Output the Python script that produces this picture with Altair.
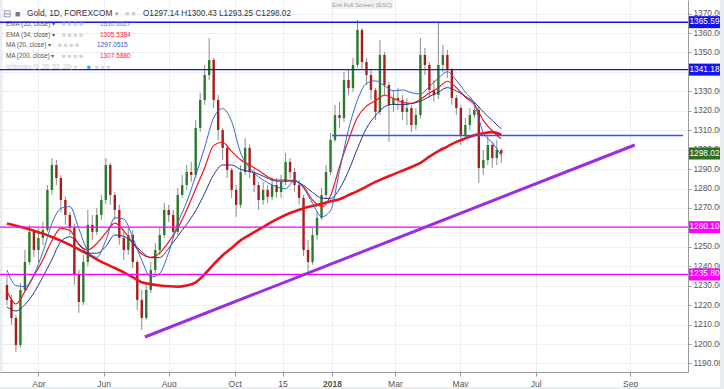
import altair as alt
import pandas as pd

# ---------------- data ----------------
candle_idx = list(range(0, 333, 3))          # trading-session index
first_open = 1230.4
closes = [1222.7, 1213.4, 1199.5, 1227.8, 1242.2, 1257.7, 1248.4, 1254.6, 1258.7, 1279.3,
          1292.1, 1285.4, 1274.1, 1266.4, 1259.7, 1235.5, 1221.6, 1242.2, 1261.3, 1257.7,
          1266.4, 1274.1, 1292.1, 1276.7, 1269.0, 1254.6, 1248.4, 1256.1, 1242.2, 1222.7,
          1213.4, 1227.8, 1238.1, 1248.4, 1256.1, 1269.0, 1266.4, 1257.7, 1276.7, 1281.8,
          1288.5, 1287.0, 1311.2, 1325.6, 1338.4, 1346.1, 1325.6, 1310.1, 1300.9, 1289.6,
          1279.3, 1271.6, 1288.5, 1300.9, 1288.5, 1281.8, 1274.1, 1279.3, 1275.7, 1281.8,
          1278.2, 1283.4, 1293.7, 1288.5, 1281.8, 1275.2, 1248.4, 1242.2, 1256.1, 1264.9,
          1276.7, 1288.5, 1305.0, 1317.8, 1316.3, 1335.8, 1331.7, 1343.6, 1361.6, 1345.1,
          1338.4, 1330.7, 1319.4, 1348.7, 1333.3, 1323.0, 1326.6, 1325.6, 1319.4, 1321.4,
          1312.7, 1317.8, 1348.7, 1343.6, 1330.7, 1328.1, 1343.6, 1348.7, 1341.0, 1326.6,
          1321.4, 1307.6, 1312.7, 1317.8, 1320.4, 1290.6, 1294.7, 1302.4, 1295.7, 1299.8, 1298.02]
highs = [1235.5, 1225.2, 1215.0, 1231.4, 1248.4, 1261.3, 1258.7, 1259.7, 1262.8, 1281.8,
         1295.7, 1294.7, 1287.0, 1276.0, 1267.9, 1262.0, 1238.1, 1245.8, 1269.0, 1266.4,
         1270.0, 1276.7, 1295.7, 1293.2, 1278.2, 1271.6, 1257.7, 1259.7, 1258.5, 1243.3,
         1227.8, 1231.4, 1242.2, 1252.0, 1259.7, 1272.6, 1271.6, 1269.0, 1280.3, 1287.0,
         1292.1, 1293.7, 1315.3, 1329.2, 1343.6, 1357.5, 1347.2, 1328.0, 1311.2, 1302.4,
         1290.6, 1281.8, 1292.1, 1306.0, 1302.4, 1290.6, 1283.4, 1283.4, 1281.8, 1285.4,
         1285.4, 1287.0, 1298.3, 1295.7, 1290.6, 1284.4, 1276.7, 1253.5, 1259.7, 1267.9,
         1280.3, 1292.1, 1308.6, 1323.0, 1324.5, 1340.0, 1341.0, 1347.2, 1366.7, 1362.6,
         1347.2, 1341.0, 1331.7, 1356.4, 1350.3, 1334.8, 1330.7, 1331.7, 1328.1, 1326.6,
         1323.0, 1321.4, 1357.5, 1352.3, 1345.1, 1335.8, 1365.7, 1353.9, 1351.3, 1342.0,
         1328.1, 1323.0, 1316.3, 1321.4, 1324.5, 1322.0, 1299.8, 1307.6, 1304.0, 1305.0, 1300.43]
lows = [1220.1, 1209.8, 1195.9, 1198.0, 1226.8, 1240.7, 1244.8, 1242.2, 1251.0, 1257.7,
        1276.7, 1281.8, 1267.9, 1261.3, 1256.1, 1230.4, 1216.0, 1220.1, 1240.0, 1253.5,
        1256.1, 1263.8, 1272.0, 1271.6, 1263.8, 1251.0, 1243.3, 1245.8, 1239.1, 1217.5,
        1207.3, 1212.4, 1226.3, 1235.5, 1245.8, 1254.6, 1262.8, 1254.6, 1256.1, 1275.2,
        1279.3, 1283.4, 1285.4, 1309.1, 1323.0, 1335.8, 1321.4, 1305.0, 1294.7, 1285.4,
        1275.2, 1265.4, 1270.0, 1287.0, 1285.4, 1278.2, 1269.0, 1271.6, 1272.6, 1274.1,
        1275.2, 1275.2, 1281.8, 1285.4, 1278.2, 1271.6, 1245.3, 1237.1, 1240.7, 1253.5,
        1263.8, 1275.2, 1287.0, 1304.0, 1311.2, 1314.2, 1328.1, 1329.7, 1342.0, 1341.0,
        1333.3, 1325.6, 1315.3, 1317.8, 1328.1, 1304.0, 1319.4, 1320.4, 1315.3, 1312.7,
        1309.1, 1310.1, 1316.0, 1338.4, 1326.6, 1324.5, 1326.0, 1340.0, 1336.9, 1323.0,
        1317.8, 1302.4, 1306.0, 1310.1, 1316.3, 1282.9, 1287.0, 1292.1, 1290.6, 1292.1, 1293.25]

ma_idx = list(range(0, 331, 6))
ema55 = [1219.1, 1217.0, 1220.2, 1226.4, 1234.5, 1243.5, 1252.7, 1255.2, 1251.5, 1246.8,
         1246.7, 1250.2, 1256.1, 1255.4, 1252.1, 1247.5, 1244.4, 1244.5, 1249.3, 1255.5,
         1261.6, 1268.6, 1277.6, 1287.1, 1292.1, 1292.1, 1289.8, 1288.7, 1287.4, 1285.3,
         1283.8, 1283.8, 1283.8, 1281.6, 1278.0, 1275.1, 1274.8, 1279.8, 1289.0, 1300.6,
         1311.0, 1317.5, 1322.0, 1323.3, 1323.1, 1323.7, 1324.9, 1327.3, 1329.6, 1331.9,
         1330.2, 1327.5, 1324.4, 1319.4, 1315.0, 1310.66]
ema34 = [1227.3, 1220.6, 1227.0, 1235.1, 1243.4, 1253.1, 1259.5, 1258.5, 1251.2, 1248.4,
         1251.7, 1257.2, 1262.2, 1258.2, 1252.0, 1246.3, 1244.6, 1246.9, 1252.5, 1259.7,
         1269.0, 1279.8, 1290.7, 1302.2, 1303.8, 1299.1, 1294.8, 1292.1, 1289.3, 1286.1,
         1284.4, 1284.4, 1284.1, 1280.8, 1274.1, 1270.7, 1276.2, 1291.3, 1304.9, 1316.7,
         1322.4, 1325.2, 1328.0, 1326.4, 1324.3, 1323.8, 1325.9, 1329.1, 1331.9, 1335.2,
         1331.9, 1327.1, 1323.3, 1315.1, 1309.6, 1305.54]
ma20 = [1238.1, 1230.1, 1229.5, 1235.7, 1247.4, 1261.9, 1269.8, 1270.7, 1259.4, 1247.8,
        1244.6, 1253.3, 1265.0, 1264.3, 1254.8, 1243.1, 1234.4, 1236.4, 1247.2, 1262.1,
        1273.0, 1286.7, 1301.2, 1316.4, 1321.1, 1314.5, 1298.3, 1290.6, 1286.0, 1283.0,
        1280.9, 1279.9, 1284.1, 1280.3, 1272.4, 1265.4, 1268.6, 1289.2, 1310.3, 1325.6,
        1334.1, 1335.4, 1332.9, 1330.3, 1330.7, 1329.3, 1328.6, 1332.5, 1336.8, 1340.1,
        1335.7, 1329.6, 1323.7, 1308.7, 1303.6, 1297.05]
ma200 = [1262.0, 1260.8, 1259.7, 1258.3, 1256.8, 1255.1, 1253.2, 1251.0, 1248.7, 1246.2,
         1243.6, 1241.2, 1239.1, 1236.9, 1234.4, 1231.8, 1230.8, 1230.1, 1229.7, 1229.5,
         1230.1, 1231.7, 1235.9, 1241.0, 1245.7, 1249.4, 1253.3, 1256.1, 1258.9, 1261.6,
         1264.1, 1266.4, 1268.2, 1269.9, 1271.0, 1272.2, 1273.4, 1274.5, 1276.6, 1278.7,
         1281.0, 1283.4, 1285.4, 1287.3, 1289.2, 1291.1, 1293.2, 1296.4, 1299.3, 1301.6,
         1304.0, 1305.8, 1307.4, 1308.4, 1309.0, 1307.59]

blue_levels = [1365.59, 1341.18]
magenta_levels = [1260.10, 1235.80]
mid_level = [1307.3]
mid_level_from = [217]
trend_idx = [92.1, 419.1]
trend_val = [1203.6, 1302.4]
last_close = 1298.02

tick_idx = [21, 64.5, 108, 152, 184, 217, 259, 302.5, 353, 416]
tick_lbl = ["Apr", "Jun", "Aug", "Oct", "15", "2018", "Mar", "May", "Jul", "Sep"]
y_ticks = list(range(1190, 1371, 10))
y_hidden = [1340, 1260]      # labels covered by the price boxes

X_DOMAIN = [-1.3, 451.3]
Y_DOMAIN = [1185.6, 1377.0]

header = "O1297.14 H1300.43 L1293.25 C1298.02"
legend_names = ["EMA (55, close)", "EMA (34, close)", "MA (20, close)", "MA (200, close)"]
legend_vals = ["1310.6627", "1305.5384", "1297.0515", "1307.5880"]
legend_cols = ["#6f7cc6", "#ff1a1a", "#3a52b4", "#ff1a1a"]

FONT = "Liberation Sans"

# ---------------- frames ----------------
opens = [first_open] + closes[:-1]
cdf = pd.DataFrame({"i": candle_idx, "open": opens, "close": closes,
                    "high": highs, "low": lows})
cdf["dir"] = ["up" if c >= o else "down" for o, c in zip(opens, closes)]

mdf = pd.DataFrame({"i": ma_idx, "ema55": ema55, "ema34": ema34,
                    "ma20": ma20, "ma200": ma200})

xs = alt.Scale(domain=X_DOMAIN, nice=False, zero=False)
ys = alt.Scale(domain=Y_DOMAIN, nice=False, zero=False)

lab_expr = "''"
for v, l in reversed(list(zip(tick_idx, tick_lbl))):
    lab_expr = f"datum.value == {v} ? '{l}' : " + lab_expr

y_lab_expr = " || ".join(f"datum.value == {v}" for v in y_hidden) + \
    " ? '' : format(datum.value, '.2f')"

x_axis = alt.Axis(values=tick_idx, labelExpr=lab_expr, title=None, grid=True,
                  gridColor="#eceef2", domainColor="#9a9a9a", tickColor="#9a9a9a",
                  tickSize=4, labelColor="#555555", labelFontSize=8.5, labelFont=FONT,
                  labelPadding=3,
                  labelFontWeight={"condition": {"test": "datum.value == 217", "value": "bold"},
                                   "value": "normal"})
y_axis = alt.Axis(values=y_ticks, labelExpr=y_lab_expr, orient="right", title=None, grid=True,
                  gridColor="#eceef2", domainColor="#9a9a9a", tickColor="#9a9a9a",
                  tickSize=3, labelColor="#555555", labelFontSize=8.3, labelFont=FONT,
                  labelPadding=2, labelOverlap=False, labelBound=False)

X = lambda f: alt.X(f, type="quantitative", scale=xs, axis=x_axis)
Y = lambda f: alt.Y(f, type="quantitative", scale=ys, axis=y_axis)

strip_l = alt.Chart(pd.DataFrame({"t": [0]})).mark_rect(color="#e9ecf1").encode(
    x=alt.value(0), x2=alt.value(2.5), y=alt.value(0), y2=alt.value(372))
strip_r = alt.Chart(pd.DataFrame({"t": [0]})).mark_rect(color="#e9ecf1").encode(
    x=alt.value(720), x2=alt.value(724), y=alt.value(0), y2=alt.value(389))
strip_b = alt.Chart(pd.DataFrame({"t": [0]})).mark_rect(color="#e9ecf1").encode(
    x=alt.value(0), x2=alt.value(724), y=alt.value(387), y2=alt.value(389))

wicks = alt.Chart(cdf).mark_rule(color="#8c8c8c", strokeWidth=1).encode(
    x=X("i"), y=Y("low"), y2="high")

bodies = alt.Chart(cdf).mark_bar(size=2.4).encode(
    x=X("i"), y=Y("open"), y2="close",
    color=alt.Color("dir:N", scale=alt.Scale(domain=["up", "down"],
                                             range=["#2a7a2a", "#a81c1c"]), legend=None))

def ma_line(field, color, width):
    return alt.Chart(mdf).mark_line(color=color, strokeWidth=width,
                                    interpolate="monotone").encode(x=X("i"), y=Y(field))

l200 = ma_line("ma200", "#e8141c", 2.6)
l34 = ma_line("ema34", "#f2161c", 1.2)
l55 = ma_line("ema55", "#26348f", 1.0)
l20 = ma_line("ma20", "#3566cc", 1.0)

blue_rules = alt.Chart(pd.DataFrame({"v": blue_levels})).mark_rule(
    color="#1414f0", strokeWidth=1.4).encode(y=Y("v"))
mag_rules = alt.Chart(pd.DataFrame({"v": magenta_levels})).mark_rule(
    color="#ff00ff", strokeWidth=1.3).encode(y=Y("v"))
mid_rule = alt.Chart(pd.DataFrame({"v": mid_level, "a": mid_level_from,
                                   "b": [X_DOMAIN[1]]})).mark_rule(
    color="#3a4cff", strokeWidth=1.6).encode(y=Y("v"), x=X("a"), x2="b")

trend = alt.Chart(pd.DataFrame({"i": trend_idx, "v": trend_val})).mark_line(
    color="#9b2de6", strokeWidth=3).encode(x=X("i"), y=Y("v"))

box_vals = [blue_levels[0], blue_levels[1], last_close, magenta_levels[0], magenta_levels[1]]
box_cols = ["#1414f0", "#1414f0", "#2f6f22", "#ff00ff", "#ff00ff"]
bdf = pd.DataFrame({"v": box_vals, "c": box_cols, "t": [f"{v:.2f}" for v in box_vals]})
boxes = alt.Chart(bdf).mark_rect().transform_calculate(
    lo="datum.v - 3.1", hi="datum.v + 3.1").encode(
    x=alt.value(689), x2=alt.value(720), y=Y("lo:Q"), y2="hi:Q",
    color=alt.Color("c:N", scale=None))
box_txt = alt.Chart(bdf).mark_text(color="white", fontSize=8.3, font=FONT,
                                   align="center", baseline="middle").encode(
    x=alt.value(704.5), y=Y("v"), text="t:N")


def label(text, x, y, size, color, weight="normal", align="left"):
    return alt.Chart(pd.DataFrame({"t": [text]})).mark_text(
        fontSize=size, color=color, fontWeight=weight, font=FONT,
        align=align, baseline="middle").encode(
        x=alt.value(x), y=alt.value(y), text="t:N")


texts = [
    label("⊟", 3, 14, 10, "#8a8a8a"),
    label("■", 15, 14, 9, "#7a7a7a"),
    label("Gold, 1D, FOREXCOM", 27, 14, 8.3, "#333333"),
    label("▾", 115, 14, 7, "#9a9a9a"),
    label("■ ■", 125, 14, 7, "#d2d2d2"),
    label(header, 143, 14, 8.2, "#333333"),
]
row_y = [24, 34.5, 45, 56]
icon_x = [62, 62, 58, 62]
val_x = [100, 100, 97, 100]
for n, v, c, yy, ix, vx in zip(legend_names, legend_vals, legend_cols, row_y, icon_x, val_x):
    texts.append(label(n + " ▾", 6, yy, 6.3, "#555555"))
    texts.append(label("■ ■ ■ ■", ix, yy, 6.5, "#d4d4d4"))
    texts.append(label(v, vx, yy, 6.5, c))
texts.append(label("Ichimoku (9, 26, 52, 26) ▾", 6, 67, 6.3, "#c8c8c8"))
texts.append(label("■", 87, 67, 6.5, "#49a2dc"))
texts.append(label("■ ■ ■", 95, 67, 6.5, "#dadada"))

exit_box = alt.Chart(pd.DataFrame({"t": [0]})).mark_rect(color="#f1f1f1").encode(
    x=alt.value(331), x2=alt.value(393), y=alt.value(0), y2=alt.value(9))
exit_txt = label("Exit Full Screen (ESC)", 362, 4.5, 6, "#9a9a9a", align="center")

chart = alt.layer(
    strip_l, strip_r, strip_b, wicks, bodies, l200, l34, l55, l20,
    blue_rules, mag_rules, mid_rule, trend, boxes, box_txt,
    exit_box, exit_txt, *texts
).properties(
    width=688, height=372,
    padding={"left": 0, "top": 0, "right": 36, "bottom": 17},
    autosize=alt.AutoSizeParams(type="none"),
    background="white",
).configure_view(stroke=None)

chart.save("out.html", embed_options={"renderer": "svg", "actions": False})
